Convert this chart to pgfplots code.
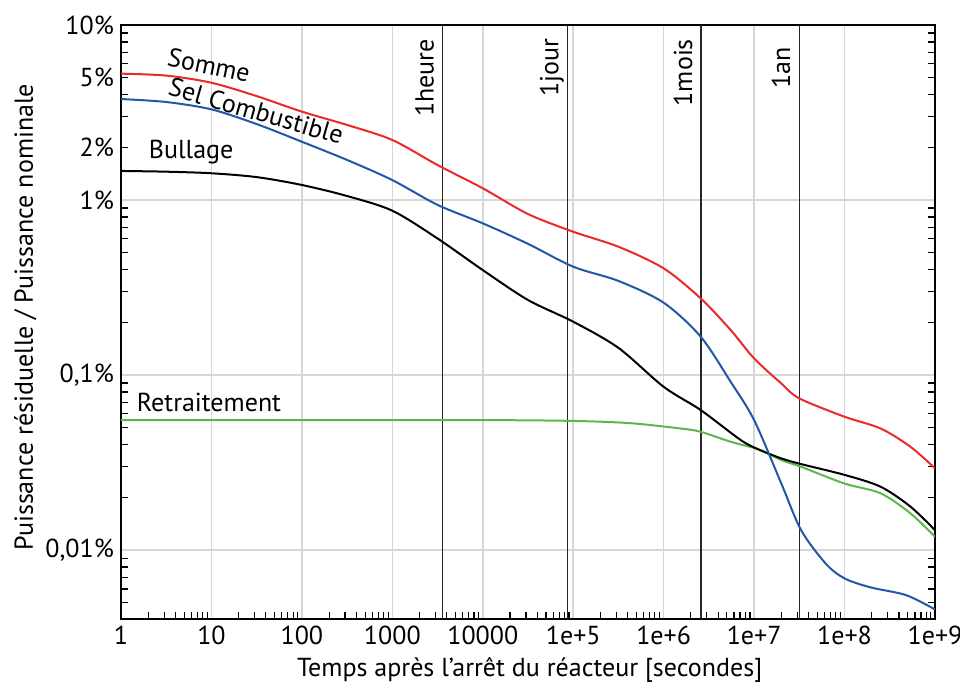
\documentclass[border=0pt]{standalone}
\usepackage{pgfplots}
\pgfplotsset{compat=1.18}
\usepackage{fontspec}
\setmainfont{PT Sans}
\definecolor{cred}{RGB}{235,40,42}
\definecolor{cblue}{RGB}{33,87,168}
\definecolor{cgreen}{RGB}{92,184,70}
\definecolor{cgrid}{RGB}{215,215,215}
\begin{document}
\begin{tikzpicture}
\begin{axis}[
  at={(0pt,0pt)}, anchor=south west,
  scale only axis, width=407pt, height=297pt,
  xmode=log, ymode=log,
  xmin=1, xmax=1e9, ymin=0.00404, ymax=10,
  font=\fontsize{13}{15}\selectfont,
  xtick={1,10,100,1000,10000,1e5,1e6,1e7,1e8,1e9},
  xticklabels={1,10,100,1000,10000,1e+5,1e+6,1e+7,1e+8,1e+9},
  ytick={0.01,0.1,1,10},
  yticklabels={{0,01\%},{0,1\%},{1\%},{10\%}},
  extra y ticks={2,5},
  extra y tick labels={{2\%},{5\%}},
  extra y tick style={grid=none},
  minor xtick={2,3,4,5,6,7,8,9,20,30,40,50,60,70,80,90,200,300,400,500,600,700,800,900,2000,3000,4000,5000,6000,7000,8000,9000,2e4,3e4,4e4,5e4,6e4,7e4,8e4,9e4,2e5,3e5,4e5,5e5,6e5,7e5,8e5,9e5,2e6,3e6,4e6,5e6,6e6,7e6,8e6,9e6,2e7,3e7,4e7,5e7,6e7,7e7,8e7,9e7,2e8,3e8,4e8,5e8,6e8,7e8,8e8,9e8},
  minor ytick={0.005,0.006,0.007,0.008,0.009,0.02,0.03,0.04,0.05,0.06,0.07,0.08,0.09,0.2,0.3,0.4,0.5,0.6,0.7,0.8,0.9,2,3,4,5,6,7,8,9},
  major tick length=0pt, minor tick length=3.5pt,
  xtick pos=left, ytick pos=both,
  tick align=inside,
  grid=major, major grid style={cgrid, line width=0.8pt},
  axis line style={line width=0.7pt},
  minor tick style={black, line width=0.6pt},
  xlabel={Temps après l’arrêt du réacteur [secondes]},
  ylabel={Puissance résiduelle / Puissance nominale},
  xlabel style={at={(rel axis cs:0.502,0)}, anchor=base, yshift=-29pt},
  ylabel style={at={(rel axis cs:0,0.508)}, anchor=base, yshift=44pt},
  every axis plot/.append style={line width=1pt, no marks, smooth},
]
% event lines
\addplot[black!85, line width=0.6pt, sharp plot] coordinates {(3600,0.00404) (3600,10)};
\addplot[black!85, line width=0.6pt, sharp plot] coordinates {(86400,0.00404) (86400,10)};
\addplot[black!85, line width=0.6pt, sharp plot] coordinates {(2.592e6,0.00404) (2.592e6,10)};
\addplot[black!85, line width=0.6pt, sharp plot] coordinates {(3.156e7,0.00404) (3.156e7,10)};
% Retraitement
\addplot[cgreen] coordinates {
(1,0.0553) (100,0.0553) (1e4,0.0553) (1e5,0.0547) (4.27e5,0.0531)
(1.55e6,0.0495) (2.57e6,0.0474) (5.5e6,0.0416) (1.12e7,0.0376) (2e7,0.0327)
(3.31e7,0.0299) (1e8,0.0240) (2.51e8,0.0211) (5.37e8,0.0162) (1e9,0.0119)};
% Bullage
\addplot[black] coordinates {
(1,1.466) (3.162,1.452) (10,1.422) (31.62,1.352) (100,1.219) (316.2,1.054) (1000,0.869)
(3162,0.603) (1e4,0.398) (31623,0.2685) (1e5,0.2018) (316228,0.143)
(1e6,0.0857) (2.57e6,0.0631) (7.08e6,0.0426) (1.12e7,0.0376) (2e7,0.0334)
(3.31e7,0.0310) (1e8,0.0269) (2.51e8,0.0230) (5.37e8,0.0177) (1e9,0.0130)};
% Sel Combustible
\addplot[cblue] coordinates {
(1,3.776) (3.162,3.631) (10,3.296) (31.62,2.716) (100,2.153) (316.2,1.694) (1000,1.300)
(3162,0.938) (1e4,0.736) (31623,0.562) (1e5,0.416) (316228,0.345) (1e6,0.259)
(2.57e6,0.1656) (5.5e6,0.0916) (1e7,0.0553) (2e7,0.0240)
(3.31e7,0.0130) (6.17e7,0.00839) (1e8,0.00689) (1.95e8,0.00612) (4.79e8,0.00553)
(1e9,0.00458)};
% Somme
\addplot[cred] coordinates {
(1,5.272) (3.162,5.140) (10,4.677) (31.62,3.926) (100,3.199) (316.2,2.685) (1000,2.203)
(3162,1.585) (1e4,1.167) (31623,0.832) (1e5,0.659) (316228,0.541) (1e6,0.407)
(2.57e6,0.274) (5.5e6,0.181) (1e7,0.1245) (2e7,0.0895)
(3.16e7,0.0736) (1e8,0.0578) (2.51e8,0.0495) (5.37e8,0.0389) (1e9,0.0293)};
% event labels
\node[rotate=90, anchor=base east] at ([xshift=-4.5pt,yshift=-3.5pt]axis cs:3600,10) {1heure};
\node[rotate=90, anchor=base east] at ([xshift=-4.5pt,yshift=-3.5pt]axis cs:86400,10) {1jour};
\node[rotate=90, anchor=base east] at ([xshift=-4.5pt,yshift=-3.5pt]axis cs:2.592e6,10) {1mois};
\node[rotate=90, anchor=base east] at ([xshift=-4.5pt,yshift=-7.5pt]axis cs:3.156e7,10) {1an};
% series labels
\node[rotate=-12, inner sep=0pt] at ([yshift=2.5pt]axis cs:9.4,5.53) {Somme};
\node[rotate=-16, inner sep=0pt] at ([yshift=3pt]axis cs:31.2,2.98) {Sel Combustible};
\node[inner sep=0pt] at (axis cs:5.96,1.88) {Bullage};
\node[inner sep=0pt] at (axis cs:9.4,0.0701) {Retraitement};
\end{axis}
\pgfresetboundingbox
\path (-60.5pt,-32.5pt) rectangle (419.5pt,309.5pt);
\end{tikzpicture}
\end{document}
